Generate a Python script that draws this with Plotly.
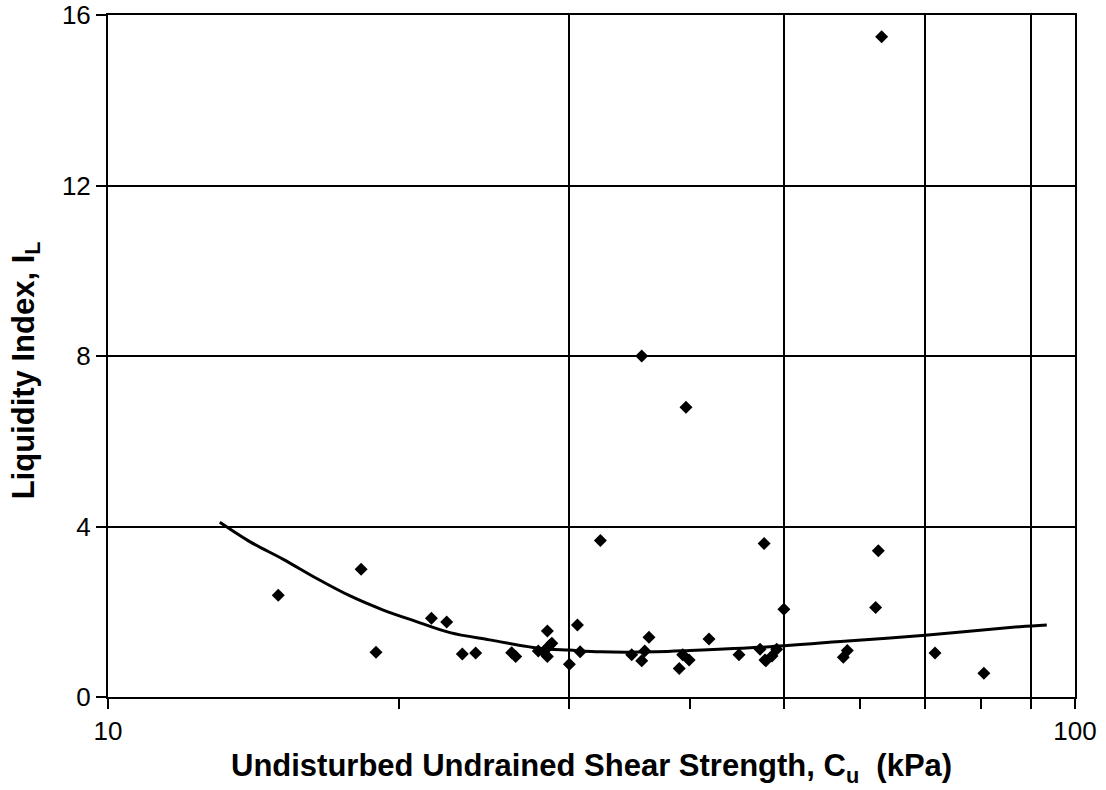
import plotly.graph_objects as go

# Undisturbed undrained shear strength (kPa) and liquidity index of the samples
cu_kpa = [15.0, 18.27, 18.93, 21.6, 22.4, 23.25, 24.0, 26.15, 26.4, 27.86, 28.2,
          28.47, 28.6, 28.77, 28.47, 30.0, 30.58, 30.78, 32.3, 34.8, 35.9, 35.64,
          36.26, 38.97, 39.29, 39.9, 41.83, 44.93, 47.24, 47.9, 47.7, 47.8, 48.6,
          49.15, 50.0, 57.6, 58.15, 62.2, 62.6, 71.65, 80.5, 63.1, 35.64, 39.6]
liquidity_index = [2.39, 3.0, 1.05, 1.85, 1.76, 1.01, 1.03, 1.04, 0.95, 1.08, 1.06,
                   1.55, 1.2, 1.26, 0.95, 0.77, 1.69, 1.06, 3.67, 0.99, 1.08, 0.85,
                   1.40, 0.67, 0.99, 0.87, 1.36, 0.99, 1.12, 0.85, 3.6, 0.87, 0.96,
                   1.12, 2.06, 0.93, 1.09, 2.10, 3.43, 1.03, 0.56, 15.49, 8.0, 6.80]

# Trend curve
trend_cu = [13.05, 14.03, 15.18, 16.44, 17.8, 19.26, 20.84, 22.58, 24.8, 28.0,
            30.0, 32.3, 36.9, 40.0, 48.4, 57.2, 70.0, 87.7, 93.5]
trend_il = [4.10, 3.64, 3.23, 2.78, 2.37, 2.04, 1.77, 1.51, 1.34, 1.14,
            1.10, 1.06, 1.06, 1.09, 1.18, 1.30, 1.45, 1.65, 1.69]

x_labels = [10, 100]
x_minor_ticks = [20, 30, 40, 50, 60, 70, 80, 90]
x_grid = [30, 50, 70, 90]
y_ticks = [0, 4, 8, 12, 16]

FONT = "Liberation Sans, Arial, sans-serif"

fig = go.Figure()

fig.add_trace(go.Scatter(
    x=trend_cu, y=trend_il, mode="lines",
    line=dict(color="black", width=3, shape="spline", smoothing=0.9),
    hoverinfo="skip", showlegend=False,
))
fig.add_trace(go.Scatter(
    x=cu_kpa, y=liquidity_index, mode="markers",
    marker=dict(symbol="diamond", size=10, color="black"),
    showlegend=False,
))
# helper trace so the overlaid grid axis is rendered
fig.add_trace(go.Scatter(
    x=[10, 100], y=[0, 0], xaxis="x2", mode="lines",
    line=dict(width=0), hoverinfo="skip", showlegend=False,
))

fig.update_layout(
    template="none",
    width=1106, height=790,
    margin=dict(l=108, r=31, t=15, b=93),
    paper_bgcolor="white", plot_bgcolor="white",
    font=dict(family=FONT, color="black", size=26),
    xaxis=dict(
        type="log", range=[1, 2], automargin=False,
        tickmode="array", tickvals=x_labels, ticktext=[str(v) for v in x_labels],
        ticks="outside", ticklen=10, tickwidth=2, tickcolor="black",
        minor=dict(tickmode="array", tickvals=x_minor_ticks, ticks="outside",
                   ticklen=10, tickwidth=2, tickcolor="black", showgrid=False),
        showgrid=False, zeroline=False,
        showline=True, linecolor="black", linewidth=2, mirror=True,
        tickfont=dict(size=26),
    ),
    xaxis2=dict(
        type="log", range=[1, 2], overlaying="x", side="bottom", automargin=False,
        tickmode="array", tickvals=x_grid, showticklabels=False, ticks="",
        showgrid=True, gridcolor="black", gridwidth=2, zeroline=False,
        showline=False,
    ),
    yaxis=dict(
        range=[0, 16], tickmode="array", tickvals=y_ticks, automargin=False,
        ticks="outside", ticklen=10, tickwidth=2, tickcolor="black",
        showgrid=True, gridcolor="black", gridwidth=2, zeroline=False,
        showline=True, linecolor="black", linewidth=2, mirror=True,
        tickfont=dict(size=26),
    ),
    annotations=[
        dict(text="<b>Undisturbed Undrained Shear Strength, C<sub>u</sub>  (kPa)</b>",
             xref="paper", yref="paper", x=0.5, y=-0.104,
             xanchor="center", yanchor="middle", showarrow=False,
             font=dict(size=31)),
        dict(text="<b>Liquidity Index, I<sub>L</sub></b>",
             xref="paper", yref="paper", x=-0.0848, y=0.479,
             xanchor="center", yanchor="middle", textangle=-90, showarrow=False,
             font=dict(size=31)),
    ],
)

fig.write_html("out.html")
